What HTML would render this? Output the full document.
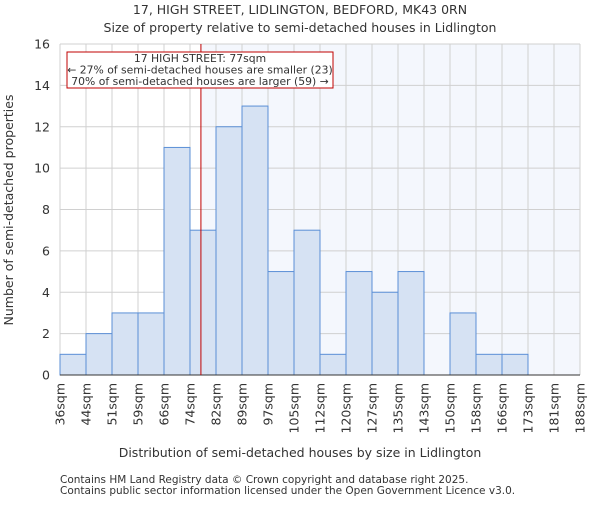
<!DOCTYPE html>
<html><head><meta charset="utf-8"><style>
body{margin:0;background:#fff;}
svg text{font-family:"DejaVu Sans","Liberation Sans",sans-serif;fill:#333;}
</style></head><body>
<svg id="chart" width="600" height="500" xmlns="http://www.w3.org/2000/svg">
<text x="300" y="14" font-size="12.5" text-anchor="middle">17, HIGH STREET, LIDLINGTON, BEDFORD, MK43 0RN</text>
<text x="300" y="32" font-size="12.5" text-anchor="middle">Size of property relative to semi-detached houses in Lidlington</text>
<g id="plot"></g>
<text x="300" y="457" font-size="12.5" text-anchor="middle">Distribution of semi-detached houses by size in Lidlington</text>
<text transform="translate(13,210) rotate(-90)" font-size="12.5" text-anchor="middle">Number of semi-detached properties</text>
<text x="60" y="483" font-size="10.5">Contains HM Land Registry data © Crown copyright and database right 2025.</text>
<text x="60" y="494" font-size="10.5">Contains public sector information licensed under the Open Government Licence v3.0.</text>
</svg>
<script>
const categories=["36sqm","44sqm","51sqm","59sqm","66sqm","74sqm","82sqm","89sqm","97sqm","105sqm","112sqm","120sqm","127sqm","135sqm","143sqm","150sqm","158sqm","166sqm","173sqm","181sqm","188sqm"];
const counts=[1,2,3,3,11,7,12,13,5,7,1,5,4,5,0,3,1,1,0,0];
const yTicks=[0,2,4,6,8,10,12,14,16];
const markerIndex=5.42;
const NS="http://www.w3.org/2000/svg";
const g=document.getElementById('plot');
const X0=60,X1=580,Y0=375,Y1=44,YMAX=16;
const bw=(X1-X0)/counts.length;
const xs=i=>X0+i*bw;
const ys=v=>Y0-(v/YMAX)*(Y0-Y1);
function el(t,a){const e=document.createElementNS(NS,t);for(const k in a)e.setAttribute(k,a[k]);g.appendChild(e);return e;}
const mx=xs(markerIndex);
let bg=el('rect',{x:mx,y:Y1,width:X1-mx,height:Y0-Y1,fill:'#f4f7fd'});


for(let i=0;i<=counts.length;i++){let l=el('line',{x1:xs(i),x2:xs(i),y1:Y1,y2:Y0,stroke:'#d0d0d0','stroke-width':1});

}
yTicks.forEach(v=>{let l=el('line',{x1:X0,x2:X1,y1:ys(v),y2:ys(v),stroke:'#d0d0d0','stroke-width':1});


let t=el('text',{x:X0-10,y:ys(v)+4.5,'font-size':12.5,'text-anchor':'end'});t.textContent=v;

});
counts.forEach((c,i)=>{if(c<=0)return;let r=el('rect',{x:xs(i),y:ys(c),width:bw,height:Y0-ys(c),fill:'#d6e2f3',stroke:'#5b8fd6','stroke-width':1});

});
categories.forEach((c,i)=>{let t=el('text',{transform:`translate(${xs(i)+4.5},383) rotate(-90)`,'font-size':12.5,'text-anchor':'end'});t.textContent=c;

});
let ax=el('line',{x1:X0,x2:X1,y1:Y0,y2:Y0,stroke:'#333','stroke-width':1});


let ml=el('line',{x1:mx,x2:mx,y1:Y1,y2:Y0,stroke:'#c00000','stroke-width':1});


let box=el('rect',{x:67,y:52,width:266,height:36,fill:'#fff',stroke:'#c00000','stroke-width':1});


["17 HIGH STREET: 77sqm","← 27% of semi-detached houses are smaller (23)","70% of semi-detached houses are larger (59) →"].forEach((s,i)=>{let t=el('text',{x:200,y:62+i*11.5,'font-size':10.8,'text-anchor':'middle'});t.textContent=s;

});
</script>
</body></html>
